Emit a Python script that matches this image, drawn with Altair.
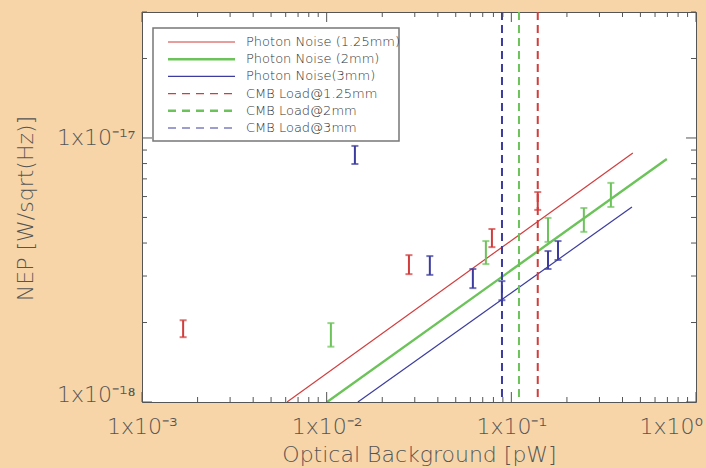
import altair as alt
import pandas as pd

# plot-area size in pixels
W, H = 554, 390

FONT = "DejaVu Sans"
TEXT = "#555555"
FRAME = "#555555"

bands = ["1.25mm", "2mm", "3mm"]
band_colors = ["#d23c3c", "#6cc35a", "#3c3ca0"]

# photon-noise limits (straight lines in log-log space), end points per band
line_band = ["1.25mm", "1.25mm", "2mm", "2mm", "3mm", "3mm"]
line_x = [0.0061, 0.455, 0.01005, 0.695, 0.01476, 0.450]
line_y = [1.0e-18, 8.77e-18, 1.0e-18, 8.33e-18, 1.0e-18, 5.48e-18]

# CMB loading for each band [pW]
cmb_band = ["1.25mm", "2mm", "3mm"]
cmb_x = [0.139, 0.110, 0.089]

# measured NEP ranges
meas_band = ["1.25mm"] * 4 + ["2mm"] * 5 + ["3mm"] * 6
meas_x = [0.00167, 0.0279, 0.0785, 0.139,
          0.01054, 0.0728, 0.158, 0.247, 0.346,
          0.01422, 0.0362, 0.0619, 0.0889, 0.158, 0.179]
meas_lo = [1.76e-18, 3.05e-18, 3.86e-18, 5.34e-18,
           1.62e-18, 3.33e-18, 4.04e-18, 4.41e-18, 5.48e-18,
           7.97e-18, 3.03e-18, 2.70e-18, 2.43e-18, 3.19e-18, 3.45e-18]
meas_hi = [2.04e-18, 3.60e-18, 4.52e-18, 6.24e-18,
           1.99e-18, 4.07e-18, 4.98e-18, 5.43e-18, 6.76e-18,
           9.33e-18, 3.57e-18, 3.19e-18, 2.87e-18, 3.73e-18, 4.07e-18]

# legend entries
legend_labels = ["Photon Noise (1.25mm)", "Photon Noise (2mm)", "Photon Noise(3mm)",
                 "CMB Load@1.25mm", "CMB Load@2mm", "CMB Load@3mm"]
legend_band = bands + bands
legend_kind = ["photon"] * 3 + ["cmb"] * 3

# axis tick positions
x_major = [1e-3, 1e-2, 1e-1, 1.0]
x_minor = [m * d for d in (1e-3, 1e-2, 1e-1) for m in range(2, 10)]
y_major = [1e-18, 1e-17]
y_minor = [m * 1e-18 for m in range(2, 10)] + [2e-17, 3e-17]

lines_df = pd.DataFrame({"band": line_band, "x": line_x, "y": line_y})
cmb_df = pd.DataFrame({"band": cmb_band, "x": cmb_x})
meas_df = pd.DataFrame({"band": meas_band, "x": meas_x, "lo": meas_lo, "hi": meas_hi})
legend_df = pd.DataFrame({"label": legend_labels, "band": legend_band, "kind": legend_kind})

xscale = alt.Scale(type="log", domain=[1e-3, 1.0], nice=False)
yscale = alt.Scale(type="log", domain=[1e-18, 3e-17], nice=False)

xaxis = alt.Axis(
    values=x_major, title="Optical Background [pW]",
    labelExpr="'1x10' + (datum.value < 0.0015 ? '⁻³' : datum.value < 0.015 ? '⁻²' : datum.value < 0.15 ? '⁻¹' : '⁰')",
    labelOffset={"condition": {"test": "datum.value >= 0.5", "value": -25}, "value": 0},
    labelFlush=False, ticks=False, domain=False, grid=False, labelPadding=14, titlePadding=7,
)
yaxis = alt.Axis(
    values=y_major, title="NEP [W/sqrt(Hz)]",
    labelExpr="datum.value < 5e-18 ? '1x10⁻¹⁸' : '1x10⁻¹⁷'",
    labelOffset={"condition": {"test": "datum.value < 5e-18", "value": -8}, "value": 0},
    labelFlush=False, ticks=False, domain=False, grid=False, labelPadding=7,
    titleX=-117, titleY=196, titleAngle=270, titleAlign="center", titleBaseline="middle",
)

X = lambda f: alt.X(f, type="quantitative", scale=xscale, axis=xaxis)
Y = lambda f: alt.Y(f, type="quantitative", scale=yscale, axis=yaxis)
color = alt.Color("band:N", scale=alt.Scale(domain=bands, range=band_colors), legend=None)
swidth = alt.StrokeWidth("band:N", scale=alt.Scale(type="ordinal", domain=bands, range=[1.2, 2.4, 1.2]),
                         legend=None)

photon = alt.Chart(lines_df).mark_line(clip=True).encode(x=X("x"), y=Y("y"), color=color, strokeWidth=swidth)

cmb = alt.Chart(cmb_df).mark_rule(strokeDash=[8, 5], strokeWidth=2).encode(x=X("x"), color=color)

bars = alt.Chart(meas_df).mark_rule(strokeWidth=2).encode(x=X("x"), y=Y("lo"), y2="hi", color=color)
cap_lo = alt.Chart(meas_df).mark_tick(orient="horizontal", size=7, thickness=2).encode(x=X("x"), y=Y("lo"), color=color)
cap_hi = alt.Chart(meas_df).mark_tick(orient="horizontal", size=7, thickness=2).encode(x=X("x"), y=Y("hi"), color=color)


def xticks(vals, length):
    d = pd.DataFrame({"v": vals})
    bottom = alt.Chart(d).mark_rule(color=FRAME, strokeWidth=1).encode(
        x=X("v"), y=alt.value(H), y2=alt.value(H - length))
    top = alt.Chart(d).mark_rule(color=FRAME, strokeWidth=1).encode(
        x=X("v"), y=alt.value(0), y2=alt.value(length))
    return [bottom, top]


def yticks(vals, length):
    d = pd.DataFrame({"v": vals})
    left = alt.Chart(d).mark_rule(color=FRAME, strokeWidth=1).encode(
        y=Y("v"), x=alt.value(0), x2=alt.value(length))
    right = alt.Chart(d).mark_rule(color=FRAME, strokeWidth=1).encode(
        y=Y("v"), x=alt.value(W), x2=alt.value(W - length))
    return [left, right]


ticks = xticks(x_major, 10) + xticks(x_minor, 5) + yticks(y_major, 10) + yticks(y_minor, 5)

main = alt.layer(photon, cmb, bars, cap_lo, cap_hi, *ticks)

# legend box drawn inside the plot area
leg_y = alt.Y("label:N", sort=legend_labels,
              scale=alt.Scale(type="point", domain=legend_labels, range=[30, 116], padding=0),
              axis=None)
box = alt.Chart(pd.DataFrame({"a": [0]})).mark_rect(fill="white", stroke="#777777", strokeWidth=1.5).encode(
    x=alt.value(11), x2=alt.value(257), y=alt.value(16), y2=alt.value(129))
leg_lines = alt.Chart(legend_df).mark_rule().encode(
    x=alt.value(26), x2=alt.value(93), y=leg_y, color=color, strokeWidth=swidth,
    strokeDash=alt.StrokeDash("kind:N", scale=alt.Scale(domain=["photon", "cmb"], range=[[1, 0], [8, 6]]), legend=None),
)
leg_text = alt.Chart(legend_df).mark_text(align="left", baseline="middle", font=FONT, fontSize=13,
                                          fontWeight=300, color="#333333").encode(
    x=alt.value(104), y=leg_y, text="label:N")
legend = alt.layer(box, leg_lines, leg_text)

chart = (
    alt.layer(main, legend)
    .resolve_scale(y="independent")
    .properties(width=W, height=H, background="#f7d5a8",
                padding={"left": 142, "top": 12, "right": 10, "bottom": 66},
                autosize=alt.AutoSizeParams(type="none"))
    .configure_view(fill="white", stroke=FRAME, strokeWidth=1)
    .configure_axis(labelFont=FONT, titleFont=FONT, labelFontSize=22, titleFontSize=22,
                    labelFontWeight=300, titleFontWeight=300,
                    labelColor=TEXT, titleColor=TEXT)
)

chart.save("out.html", embed_options={"renderer": "svg", "actions": False})
